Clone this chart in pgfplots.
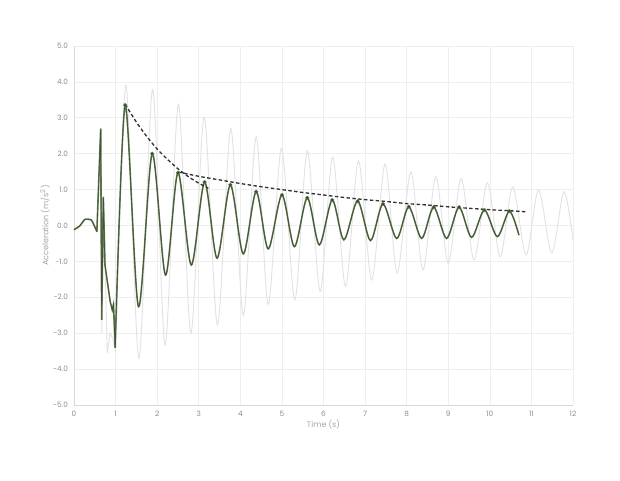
\documentclass[border=0pt]{standalone}
\usepackage{fontspec}
\setmainfont{Poppins}
\usepackage{pgfplots}
\pgfplotsset{compat=1.18}
\definecolor{gridc}{RGB}{238,238,238}
\definecolor{axc}{RGB}{217,217,217}
\definecolor{tickc}{RGB}{140,140,140}
\definecolor{labc}{RGB}{165,165,165}
\definecolor{rawc}{RGB}{226,226,226}
\definecolor{filtc}{RGB}{100,135,80}
\definecolor{corec}{RGB}{70,78,62}
\definecolor{mkc}{RGB}{55,68,45}
\definecolor{dashc}{RGB}{50,50,50}
\begin{document}
\begin{tikzpicture}
\path[use as bounding box] (0,0) rectangle (465pt,360pt);
\begin{axis}[
  at={(55.5pt,56.25pt)}, anchor=south west,
  scale only axis, width=374.25pt, height=269.25pt,
  xmin=0, xmax=12, ymin=-5, ymax=5,
  xtick={0,1,...,12}, ytick={-5,-4,...,5},
  major tick length=0pt,
  axis lines=left,
  axis line style={-, draw=axc, line width=0.6pt},
  grid=major,
  major grid style={draw=gridc, line width=0.5pt},
  /pgf/number format/assume math mode=true,
  ticklabel style={font=\fontsize{5.5}{7}\selectfont, text=tickc},
  yticklabel style={/pgf/number format/fixed, /pgf/number format/fixed zerofill, /pgf/number format/precision=1, xshift=-1pt},
  xticklabel style={yshift=-1pt},
  xlabel={Time (s)},
  ylabel={Acceleration (m/s\textsuperscript{2})},
  label style={font=\fontsize{6}{7}\selectfont, text=labc},
  xlabel style={at={(axis description cs:0.5,-0.0557)}, anchor=center},
  ylabel style={at={(axis description cs:-0.0581,0.5)}, anchor=center},
  clip=false,
]
% raw signal (light grey)
\addplot[rawc, line width=0.7pt] coordinates {
(0,-0.12) (0.14,-0.01) (0.26,0.17) (0.42,0.15) (0.55,-0.17) (0.64,2.7) (0.67,-3.0) (0.71,0.8) (0.80,-3.55) (0.87,-3.0) (0.93,-3.15) (1.0,-3.5)};
\addplot[rawc, line width=0.7pt, smooth] coordinates {
(1.0,-3.5) (1.25,3.91) (1.56,-3.7) (1.89,3.79) (2.19,-3.33) (2.51,3.38) (2.81,-3.0) (3.13,3.01) (3.45,-2.77) (3.77,2.7) (4.07,-2.5) (4.38,2.47) (4.67,-2.2) (4.99,2.15) (5.31,-2.07) (5.61,2.08) (5.92,-1.84) (6.22,1.90) (6.53,-1.70) (6.84,1.80) (7.16,-1.52) (7.48,1.71) (7.77,-1.33) (8.10,1.50) (8.39,-1.24) (8.70,1.36) (9.0,-1.05) (9.31,1.31) (9.62,-0.96) (9.94,1.19) (10.25,-0.87) (10.55,1.08) (10.87,-0.82) (11.17,0.99) (11.49,-0.76) (11.78,0.94) (12,-0.4)};
% filtered signal (green outline with dark core)
\pgfplotsset{filt/.style={line width=1.2pt, filtc}, core/.style={line width=0.55pt, corec}}
\addplot[filt, smooth, tension=0.3] coordinates {
(0,-0.12) (0.14,-0.01) (0.26,0.17) (0.42,0.15) (0.55,-0.17)};
\addplot[filt] coordinates {
(0.55,-0.17) (0.642,2.7) (0.666,-2.63) (0.705,0.8) (0.745,-1.1) (0.87,-2.12) (0.92,-2.35) (0.95,-2.2) (0.99,-3.4)};
\addplot[filt, smooth] coordinates {
(0.99,-3.4) (1.23,3.35) (1.55,-2.26) (1.88,2.0) (2.2,-1.38) (2.5,1.47) (2.82,-1.1) (3.14,1.21) (3.44,-0.91) (3.76,1.13) (4.07,-0.79) (4.38,0.94) (4.67,-0.65) (5.0,0.85) (5.3,-0.59) (5.61,0.77) (5.9,-0.54) (6.21,0.71) (6.49,-0.40) (6.82,0.68) (7.13,-0.42) (7.43,0.60) (7.76,-0.36) (8.05,0.52) (8.36,-0.36) (8.65,0.51) (8.96,-0.36) (9.26,0.51) (9.56,-0.33) (9.87,0.43) (10.18,-0.31) (10.47,0.40) (10.70,-0.27)};
\addplot[core, smooth, tension=0.3] coordinates {
(0,-0.12) (0.14,-0.01) (0.26,0.17) (0.42,0.15) (0.55,-0.17)};
\addplot[core] coordinates {
(0.55,-0.17) (0.642,2.7) (0.666,-2.63) (0.705,0.8) (0.745,-1.1) (0.87,-2.12) (0.92,-2.35) (0.95,-2.2) (0.99,-3.4)};
\addplot[core, smooth] coordinates {
(0.99,-3.4) (1.23,3.35) (1.55,-2.26) (1.88,2.0) (2.2,-1.38) (2.5,1.47) (2.82,-1.1) (3.14,1.21) (3.44,-0.91) (3.76,1.13) (4.07,-0.79) (4.38,0.94) (4.67,-0.65) (5.0,0.85) (5.3,-0.59) (5.61,0.77) (5.9,-0.54) (6.21,0.71) (6.49,-0.40) (6.82,0.68) (7.13,-0.42) (7.43,0.60) (7.76,-0.36) (8.05,0.52) (8.36,-0.36) (8.65,0.51) (8.96,-0.36) (9.26,0.51) (9.56,-0.33) (9.87,0.43) (10.18,-0.31) (10.47,0.40) (10.70,-0.27)};
% envelope fits
\addplot[dashc, line width=1.0pt, dash pattern=on 2.6pt off 1.8pt, smooth] coordinates {
(1.23,3.38) (1.5,2.88) (1.75,2.48) (2.0,2.13) (2.25,1.84) (2.5,1.58) (2.75,1.36) (3.0,1.18) (3.23,1.04)};
\addplot[dashc, line width=1.0pt, dash pattern=on 2.6pt off 1.8pt, smooth] coordinates {
(2.51,1.49) (3.0,1.37) (3.5,1.27) (4.0,1.17) (4.5,1.08) (5.0,1.0) (5.5,0.92) (6.0,0.85) (6.5,0.78) (7.0,0.72) (7.5,0.67) (8.0,0.61) (8.5,0.57) (9.0,0.52) (9.5,0.48) (10.0,0.44) (10.5,0.41) (10.89,0.38)};
% peaks
\addplot[only marks, mark=*, mark size=1.4pt, mark options={fill=mkc, draw=filtc, line width=0.3pt}] coordinates {
(1.23,3.35) (1.88,2.0) (2.5,1.47) (3.14,1.21) (3.76,1.13) (4.38,0.94) (5.0,0.85) (5.61,0.77) (6.21,0.71) (6.82,0.68) (7.43,0.60) (8.05,0.52) (8.65,0.51) (9.26,0.51) (9.87,0.43) (10.47,0.40)};
\end{axis}
\end{tikzpicture}
\end{document}
